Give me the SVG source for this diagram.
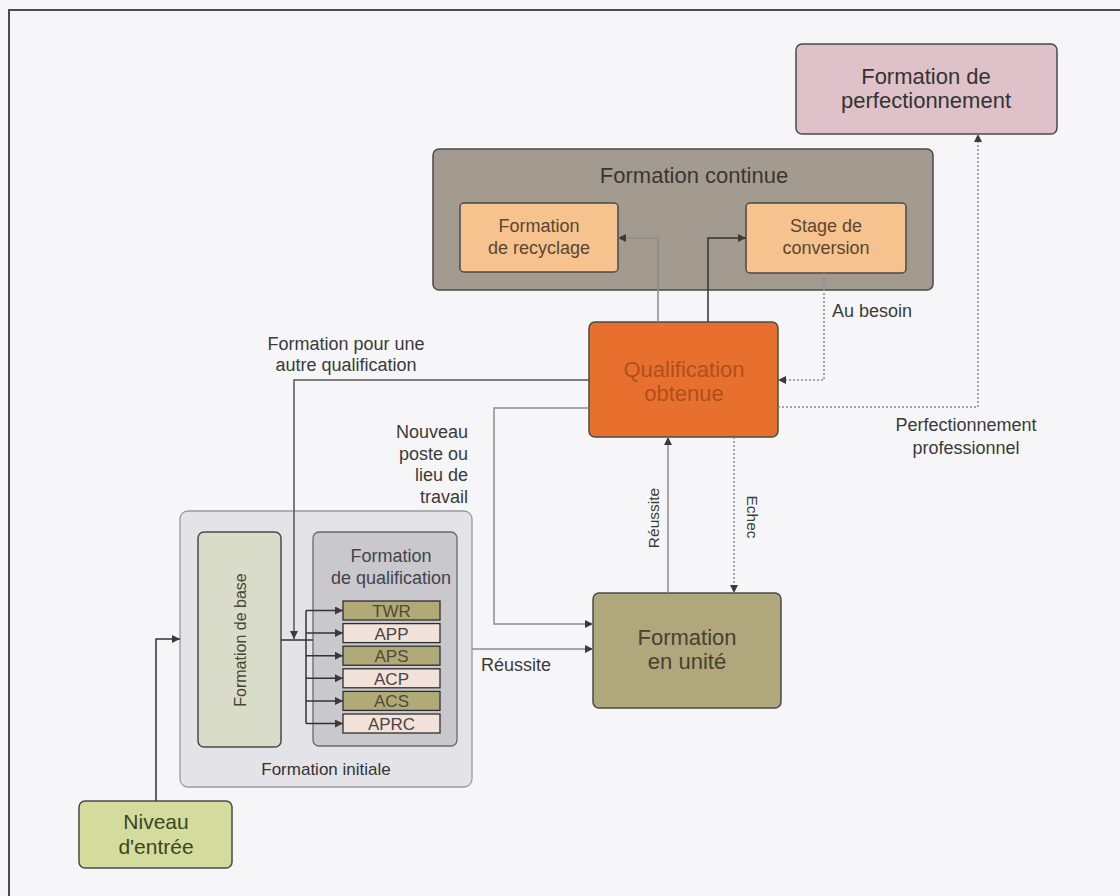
<svg xmlns="http://www.w3.org/2000/svg" width="1120" height="896" viewBox="0 0 1120 896">
<defs>
<marker id="ah" viewBox="0 0 10 10" refX="10" refY="5" markerWidth="9" markerHeight="8" markerUnits="userSpaceOnUse" orient="auto">
<path d="M0,0 L10,5 L0,10 z" fill="#3a3a3a"/>
</marker>
</defs>
<style>
text{font-family:"Liberation Sans",Arial,sans-serif;fill:#333}
.t22{font-size:22px;text-anchor:middle}
.t18{font-size:18px;text-anchor:middle}
.lbl{font-size:18px;fill:#3a3a3a}
.box{stroke:#4a4a4a;stroke-width:1.5}
.item{stroke:#2e2e2e;stroke-width:1.3}
.itx{font-size:17px;text-anchor:middle}
.cg{fill:none;stroke:#8c8c8c;stroke-width:1.5}
.cd{fill:none;stroke:#333;stroke-width:1.5}
.cdot{fill:none;stroke:#8c8c8c;stroke-width:1.5;stroke-dasharray:2,2}
</style>
<rect x="0" y="0" width="1120" height="896" fill="#f6f6f8"/>
<path d="M9,896 V10 H1120" fill="none" stroke="#4a4a4a" stroke-width="2"/>

<g id="perfectionnement">
<rect class="box" x="796" y="44" width="261" height="90" rx="6" fill="#dfc2c9"/>
<text class="t22" x="926" y="84">Formation de</text>
<text class="t22" x="926" y="108">perfectionnement</text>
</g>

<g id="formation-continue">
<rect class="box" x="433" y="149" width="500" height="141" rx="6" fill="#a39b8f"/>
<text class="t22" x="694" y="183" style="fill:#3a3631">Formation continue</text>
</g>

<g id="recyclage">
<rect class="box" x="460" y="203" width="158" height="69" rx="4" fill="#f6c38f"/>
<text class="t18" x="539" y="232" style="fill:#5a4532">Formation</text>
<text class="t18" x="539" y="254" style="fill:#5a4532">de recyclage</text>
</g>

<g id="stage-conversion">
<rect class="box" x="746" y="203" width="160" height="70" rx="4" fill="#f6c38f"/>
<text class="t18" x="826" y="232" style="fill:#5a4532">Stage de</text>
<text class="t18" x="826" y="254" style="fill:#5a4532">conversion</text>
</g>

<g id="qualification-obtenue">
<rect class="box" x="589" y="322" width="189" height="115" rx="6" fill="#e8702e"/>
<text class="t22" x="684" y="377" style="fill:#b04f1a">Qualification</text>
<text class="t22" x="684" y="401" style="fill:#b04f1a">obtenue</text>
</g>

<g id="formation-unite">
<rect class="box" x="593" y="593" width="188" height="115" rx="6" fill="#b1a77c"/>
<text class="t22" x="687" y="645" style="fill:#47422e">Formation</text>
<text class="t22" x="687" y="669" style="fill:#47422e">en unité</text>
</g>

<g id="formation-initiale">
<rect x="180" y="511" width="292" height="276" rx="8" fill="#e4e4e8" stroke="#9a9a9a" stroke-width="1.3"/>
<text x="326" y="775" style="font-size:17px;text-anchor:middle">Formation initiale</text>
</g>

<g id="formation-base">
<rect class="box" x="198" y="532" width="83" height="215" rx="6" fill="#d9dcc8"/>
<text transform="translate(240,640) rotate(-90)" x="0" y="6" style="font-size:16px;text-anchor:middle;fill:#45473a">Formation de base</text>
</g>

<g id="formation-qualification">
<rect x="313" y="532" width="144" height="214" rx="6" fill="#c8c8cd" stroke="#6a6a6a" stroke-width="1.3"/>
<text class="t18" x="391" y="562" style="fill:#44444a">Formation</text>
<text class="t18" x="391" y="584" style="fill:#44444a">de qualification</text>
</g>

<g id="item-twr">
<rect class="item" x="343" y="601" width="97" height="19" fill="#b0aa78"/>
<text class="itx" x="391.5" y="617" style="fill:#4e4c33">TWR</text>
</g>
<g id="item-app">
<rect class="item" x="343" y="623.6" width="97" height="19" fill="#f2e2da"/>
<text class="itx" x="391.5" y="639.6" style="fill:#4a4444">APP</text>
</g>
<g id="item-aps">
<rect class="item" x="343" y="646.2" width="97" height="19" fill="#b0aa78"/>
<text class="itx" x="391.5" y="662.2" style="fill:#4e4c33">APS</text>
</g>
<g id="item-acp">
<rect class="item" x="343" y="668.8" width="97" height="19" fill="#f2e2da"/>
<text class="itx" x="391.5" y="684.8" style="fill:#4a4444">ACP</text>
</g>
<g id="item-acs">
<rect class="item" x="343" y="691.4" width="97" height="19" fill="#b0aa78"/>
<text class="itx" x="391.5" y="707.4" style="fill:#4e4c33">ACS</text>
</g>
<g id="item-aprc">
<rect class="item" x="343" y="714" width="97" height="19" fill="#f2e2da"/>
<text class="itx" x="391.5" y="730" style="fill:#4a4444">APRC</text>
</g>

<g id="niveau-entree">
<rect class="box" x="79" y="801" width="153" height="67" rx="6" fill="#d3db9d"/>
<text x="156" y="829" style="font-size:21px;text-anchor:middle;fill:#3c4620">Niveau</text>
<text x="156" y="854" style="font-size:21px;text-anchor:middle;fill:#3c4620">d'entrée</text>
</g>

<g id="connectors">
<path class="cg" d="M658,322 V238 H618" marker-end="url(#ah)"/>
<path class="cd" d="M708,322 V238 H746" marker-end="url(#ah)"/>
<path class="cdot" d="M824,273 V380 H778" marker-end="url(#ah)"/>
<path class="cdot" d="M778,407 H978 V134" marker-end="url(#ah)"/>
<path class="cd" d="M589,380 H294 V639" marker-end="url(#ah)" style="stroke:#555"/>
<path class="cg" d="M589,408 H494 V624 H593" marker-end="url(#ah)"/>
<path class="cg" d="M668,593 V437" marker-end="url(#ah)"/>
<path class="cdot" d="M734,437 V593" marker-end="url(#ah)"/>
<path class="cg" d="M472,649 H593" marker-end="url(#ah)"/>
<path class="cd" d="M156,801 V639 H180" marker-end="url(#ah)"/>
<path class="cd" d="M281,640 H313"/>
<path class="cd" d="M306,610.5 V723.5"/>
<path class="cd" d="M306,610.5 H343" marker-end="url(#ah)"/>
<path class="cd" d="M306,633.1 H343" marker-end="url(#ah)"/>
<path class="cd" d="M306,655.7 H343" marker-end="url(#ah)"/>
<path class="cd" d="M306,678.3 H343" marker-end="url(#ah)"/>
<path class="cd" d="M306,700.9 H343" marker-end="url(#ah)"/>
<path class="cd" d="M306,723.5 H343" marker-end="url(#ah)"/>
</g>

<g id="labels">
<text class="lbl" x="832" y="317">Au besoin</text>
<text class="lbl" x="966" y="431" text-anchor="middle">Perfectionnement</text>
<text class="lbl" x="966" y="454" text-anchor="middle">professionnel</text>
<text class="lbl" x="346" y="350" text-anchor="middle">Formation pour une</text>
<text class="lbl" x="346" y="371" text-anchor="middle">autre qualification</text>
<text class="lbl" x="468" y="438" text-anchor="end">Nouveau</text>
<text class="lbl" x="468" y="460" text-anchor="end">poste ou</text>
<text class="lbl" x="468" y="481" text-anchor="end">lieu de</text>
<text class="lbl" x="468" y="503" text-anchor="end">travail</text>
<text transform="translate(653,518) rotate(-90)" x="0" y="5.5" style="font-size:15.5px;text-anchor:middle;fill:#3a3a3a">Réussite</text>
<text transform="translate(752,517) rotate(90)" x="0" y="5.5" style="font-size:15.5px;text-anchor:middle;fill:#3a3a3a">Echec</text>
<text class="lbl" x="481" y="671">Réussite</text>
</g>
</svg>
